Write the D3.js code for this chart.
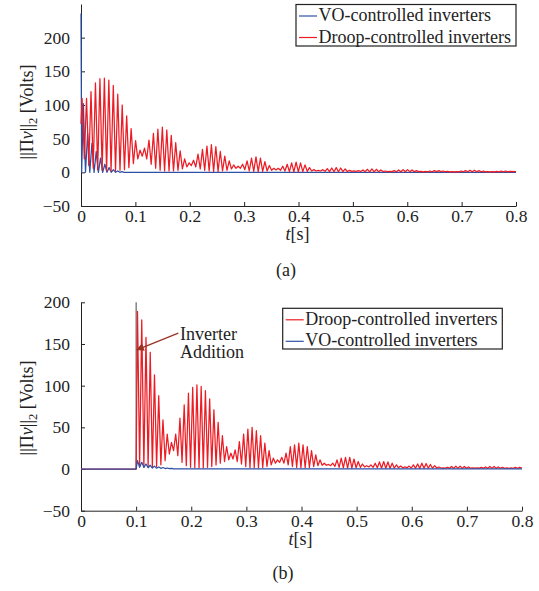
<!DOCTYPE html>
<html>
<head>
<meta charset="utf-8">
<script src="https://cdn.jsdelivr.net/npm/d3@7"></script>
<style>
  body { margin: 0; background: #fff; }
</style>
</head>
<body>
<svg id="chart" width="539" height="591"></svg>
<script>
(function() {
  'use strict';

  // ---- data ----
  var xTicks = [0, 0.1, 0.2, 0.3, 0.4, 0.5, 0.6, 0.7, 0.8];
  var xTickLabels = ["0", "0.1", "0.2", "0.3", "0.4", "0.5", "0.6", "0.7", "0.8"];
  var yTicks = [-50, 0, 50, 100, 150, 200];
  var yTickLabels = ["\u221250", "0", "50", "100", "150", "200"];

  // (a) droop-controlled: peak of every cycle, then trough after it
  var droopA_start = 72;
  var droopA_t0 = 0.002;
  var droopA_period = 0.0082;
  var droopA_peaks = [
    110, 110, 120, 133, 139, 140, 137, 129, 116, 100,
    84, 65, 47, 33, 36, 48, 58, 64, 67, 63,
    55, 44, 32, 20, 14, 18, 27, 34, 39, 41,
    38, 31, 24, 17, 11, 9, 12, 17, 21, 23,
    21, 16, 10, 6, 6, 9, 12, 14, 15, 14,
    11, 7, 4, 3, 4, 5.5, 6.5, 7, 6.5, 5,
    3, 2, 2.5, 3.5, 4.5, 5, 4.5, 3.5, 2, 1.5,
    2.5, 3.5, 4, 4, 3.5, 2.5, 1.5, 1.5, 2, 2.5,
    2.5, 2, 1.5, 1, 1.2, 2, 2.5, 3, 3, 2.5,
    2, 1.2, 1, 1.5, 2, 2, 1.5
  ];
  var droopA_troughs = [
    20, 10, 6, 4, 3, 2, 2, 2, 3, 4,
    7, 13, 20, 24, 20, 12, 6, 3, 2, 2,
    2, 3, 5, 8, 10, 8, 5, 3, 2, 1.5,
    1.5, 2, 3, 5, 6, 6, 4, 2, 1.5, 1,
    1.5, 2, 3, 3.5, 3, 2, 1, 0.8, 0.8, 1,
    1.5, 2, 2, 2, 1.5, 1, 0.8, 0.8, 1, 1.2,
    1.5, 1.5, 1.2, 1, 0.8, 0.8, 1, 1.2, 1.2, 1,
    0.8, 0.8, 0.8, 1, 1, 1, 0.8, 0.8, 0.8, 1,
    1, 0.9, 0.8, 0.8, 0.8, 0.8, 0.8, 0.9, 0.9, 0.8,
    0.7, 0.7, 0.7, 0.8, 0.8, 0.8
  ];
  var droopA_end = 1;

  // (a) VO-controlled
  var voA_start = 236;
  var voA_t0 = 0.0043;
  var voA_period = 0.0079;
  var voA_peaks = [102, 58, 43, 31, 21, 12, 7, 4, 2, 1];
  var voA_troughs = [0, 0, 0, 0, 0, 0, 0, 0, 0, 0];
  var voA_end = 0;

  // (b) droop-controlled, inverter added at t = 0.1
  var additionTime = 0.1;
  var droopB_t0 = 0.1025;
  var droopB_period = 0.0077;
  var droopB_peaks = [
    189, 179, 158, 140, 113, 88, 59, 42, 32, 42,
    61, 77, 91, 98, 101, 99, 94, 84, 71, 56,
    40, 27, 19, 23, 33, 42, 48, 50, 46, 40,
    31, 22, 13, 11, 14, 19, 27, 29, 31, 29,
    27, 22, 17, 11, 7, 5.5, 7, 11, 13, 14,
    14, 12, 9, 6, 4, 5, 7, 8.5, 9, 8.5,
    7, 5, 3.5, 2.5, 3.5, 5, 6, 7, 6.5, 5.5,
    4, 2.5, 1.5, 2, 3, 3.5, 3.5, 3, 2.5, 1.5,
    1.5, 2, 2.5, 3, 3, 2.5, 2, 1.5, 1.5, 2, 2
  ];
  var droopB_troughs = [
    3, 2, 2, 2, 3, 5, 10, 18, 22, 16,
    8, 4, 2, 1.5, 1.5, 1.5, 2, 3, 5, 7,
    9, 11, 12, 9, 6, 3, 2, 1.5, 1.5, 2,
    3, 5, 7, 8, 7, 5, 3, 2, 1.5, 1.5,
    2, 3, 4, 4.5, 4.5, 4, 3, 2, 1.5, 1.2,
    1.2, 1.5, 2, 2.5, 2.5, 2, 1.5, 1, 1, 1,
    1.2, 1.5, 1.5, 1.5, 1.2, 1, 0.8, 0.8, 1, 1,
    1.2, 1.2, 1, 1, 0.8, 0.8, 0.8, 1, 1, 1,
    1, 0.8, 0.8, 0.8, 0.8, 0.8, 0.9, 0.9, 0.9, 0.9
  ];
  var droopB_end = 1;

  // (b) VO-controlled
  var voB_t0 = 0.1025;
  var voB_period = 0.0077;
  var voB_peaks = [10, 8, 6, 4.5, 3.5, 2.5, 1.8, 1.2, 0.8];
  var voB_troughs = [2, 2, 1.5, 1.2, 1, 0.8, 0.6, 0.4, 0.2];
  var voB_end = 0.2;

  var legendA = ["VO-controlled inverters", "Droop-controlled inverters"];
  var legendB = ["Droop-controlled inverters", "VO-controlled inverters"];

  // ---- styling ----
  var RED = "#ec1c24";
  var BLUE = "#2d50a5";
  var INK = "#222";
  var ARROW = "#9a3324";
  var FONT = "'Liberation Serif', 'DejaVu Serif', serif";

  var svg = d3.select("#chart");

  svg.append("defs").append("marker")
    .attr("id", "arrowhead")
    .attr("viewBox", "0 0 10 10")
    .attr("refX", 9)
    .attr("refY", 5)
    .attr("markerWidth", 7)
    .attr("markerHeight", 6)
    .attr("orient", "auto")
    .append("path")
    .attr("d", "M0,0L10,5L0,10z")
    .attr("fill", ARROW);

  function oscillation(lead, t0, period, peaks, troughs, tEnd, vEnd) {
    var pts = lead.map(function(p) { return {t: p[0], v: p[1]}; });
    peaks.forEach(function(v, i) {
      pts.push({t: t0 + i * period, v: v});
      if (i < troughs.length) pts.push({t: t0 + (i + 0.5) * period, v: troughs[i]});
    });
    pts.push({t: tEnd, v: vEnd});
    return pts;
  }

  function drawPanel(p) {
    var x = d3.scaleLinear().domain([0, 0.8]).range(p.xRange);
    var y = d3.scaleLinear().domain(p.yDomain).range(p.yRange);
    var g = svg.append("g");

    var line = d3.line()
      .x(function(d) { return x(d.t); })
      .y(function(d) { return y(d.v); });

    // axes
    var xAxis = g.append("g")
      .attr("transform", "translate(0," + p.yRange[0] + ")")
      .call(d3.axisBottom(x)
        .tickValues(xTicks)
        .tickFormat(function(d, i) { return xTickLabels[i]; })
        .tickSizeInner(-4)
        .tickSizeOuter(0)
        .tickPadding(3.5));

    var yAxis = g.append("g")
      .attr("transform", "translate(" + p.xRange[0] + ",0)")
      .call(d3.axisLeft(y)
        .tickValues(yTicks)
        .tickFormat(function(d, i) { return yTickLabels[i]; })
        .tickSizeInner(-4)
        .tickSizeOuter(0)
        .tickPadding(11));

    [xAxis, yAxis].forEach(function(a) {
      a.attr("font-family", FONT).attr("font-size", "17.5px");
      a.selectAll("path, line").attr("stroke", INK).attr("stroke-width", 1);
      a.selectAll("text").attr("fill", INK);
    });

    if (p.marker) {
      g.append("line")
        .attr("x1", x(p.marker)).attr("x2", x(p.marker))
        .attr("y1", y(0)).attr("y2", y(p.yDomain[1]))
        .attr("stroke", "#444")
        .attr("stroke-width", 1);
    }

    p.series.forEach(function(s) {
      g.append("path")
        .datum(s.points)
        .attr("fill", "none")
        .attr("stroke", s.color)
        .attr("stroke-width", 1.25)
        .attr("stroke-linejoin", "round")
        .attr("d", line);
    });

    if (p.annotation) {
      var a = p.annotation;
      g.append("line")
        .attr("x1", x(a.from[0])).attr("y1", y(a.from[1]))
        .attr("x2", x(a.to[0])).attr("y2", y(a.to[1]))
        .attr("stroke", ARROW)
        .attr("stroke-width", 1.3)
        .attr("marker-end", "url(#arrowhead)");
      a.lines.forEach(function(txt, i) {
        g.append("text")
          .attr("x", x(a.textAt[0]))
          .attr("y", y(a.textAt[1]) + i * 18.5)
          .attr("font-size", "18px")
          .text(txt);
      });
    }

    // legend
    var lg = g.append("g");
    lg.append("rect")
      .attr("x", p.legend.x).attr("y", p.legend.y)
      .attr("width", p.legend.w).attr("height", p.legend.h)
      .attr("fill", "#fff")
      .attr("stroke", INK)
      .attr("stroke-width", 1.2);
    p.legend.labels.forEach(function(lbl, i) {
      var ly = p.legend.y + 11.5 + i * 21.5;
      lg.append("line")
        .attr("x1", p.legend.x + 3).attr("x2", p.legend.x + 21)
        .attr("y1", ly).attr("y2", ly)
        .attr("stroke", p.legend.colors[i])
        .attr("stroke-width", 1.2);
      lg.append("text")
        .attr("x", p.legend.x + 22.5)
        .attr("y", ly + 5)
        .attr("font-size", "18px")
        .text(lbl);
    });

    // axis labels
    var yl = g.append("text")
      .attr("transform", "translate(33," + p.yLabelY + ") rotate(-90)")
      .attr("text-anchor", "middle")
      .attr("font-size", "18px");
    yl.append("tspan").text("||\u03A0");
    yl.append("tspan").attr("font-style", "italic").text("v");
    yl.append("tspan").text("||");
    yl.append("tspan").attr("dy", 4).attr("font-size", "12.5px").text("2");
    yl.append("tspan").attr("dy", -4).text(" [Volts]");

    var xl = g.append("text")
      .attr("x", (p.xRange[0] + p.xRange[1]) / 2 - 1)
      .attr("y", p.xLabelY)
      .attr("text-anchor", "middle")
      .attr("font-size", "18px");
    xl.append("tspan").attr("font-style", "italic").text("t");
    xl.append("tspan").text("[s]");

    svg.append("text")
      .attr("x", p.captionX)
      .attr("y", p.captionY)
      .attr("text-anchor", "middle")
      .attr("font-size", "18px")
      .text(p.caption);
  }

  drawPanel({
    xRange: [81, 516],
    yDomain: [-50, 250],
    yRange: [206, 4],
    yLabelY: 112,
    xLabelY: 240,
    caption: "(a)",
    captionX: 286,
    captionY: 276,
    series: [
      {color: BLUE, points: oscillation([[0, voA_start], [0.0012, 0]], voA_t0, voA_period, voA_peaks, voA_troughs, 0.8, voA_end)},
      {color: RED, points: oscillation([[0, droopA_start]], droopA_t0, droopA_period, droopA_peaks, droopA_troughs, 0.8, droopA_end)}
    ],
    legend: {x: 296, y: 4.5, w: 220, h: 41.5, labels: legendA, colors: [BLUE, RED]}
  });

  drawPanel({
    xRange: [81, 522],
    yDomain: [-50, 200],
    yRange: [510.7, 302.3],
    yLabelY: 408,
    xLabelY: 545,
    caption: "(b)",
    captionX: 283,
    captionY: 579,
    marker: additionTime,
    series: [
      {color: RED, points: oscillation([[0, 0], [additionTime, 0]], droopB_t0, droopB_period, droopB_peaks, droopB_troughs, 0.8, droopB_end)},
      {color: BLUE, points: oscillation([[0, 0], [additionTime, 0]], voB_t0, voB_period, voB_peaks, voB_troughs, 0.8, voB_end)}
    ],
    annotation: {from: [0.1765, 163], to: [0.1012, 143], textAt: [0.1795, 155], lines: ["Inverter", "Addition"]},
    legend: {x: 282.7, y: 308.3, w: 219.6, h: 40.7, labels: legendB, colors: [RED, BLUE]}
  });

  // one serif face for every label
  svg.selectAll("text")
    .style("font-family", FONT)
    .attr("fill", INK);

}());
</script>
</body>
</html>
